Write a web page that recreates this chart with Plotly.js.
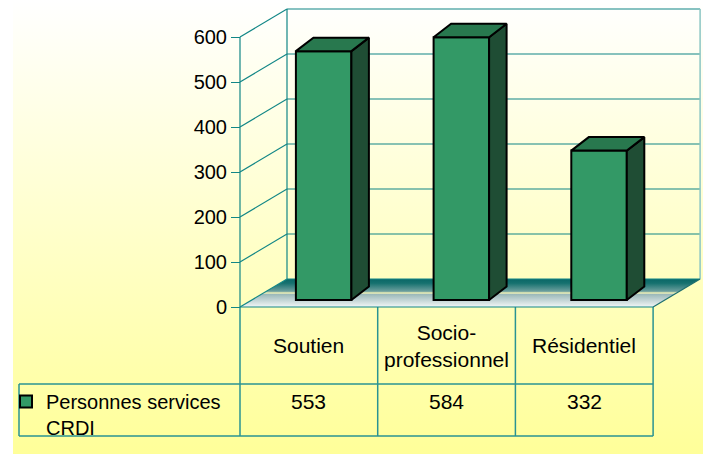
<!DOCTYPE html>
<html>
<head>
<meta charset="utf-8">
<script src="https://cdn.plot.ly/plotly-3.0.1.min.js"></script>
<style>
  html, body { margin: 0; padding: 0; background: #ffffff; }
  #chart {
    width: 703px; height: 454px;
    background-color: #ffffff;
    background-image: linear-gradient(to bottom, #ffffff 0%, #ffff99 100%);
    background-repeat: no-repeat;
    background-position: 13px 0;
    background-size: 690px 454px;
  }
</style>
</head>
<body>
<div id="chart"></div>
<script>
// data
var categories = ['Soutien', 'Socio-<br>professionnel', 'Résidentiel'];
var values = [553, 584, 332];
var seriesName = 'Personnes services<br>CRDI';
var yTicks = [0, 100, 200, 300, 400, 500, 600];

// frame of the picture, in pixels
var W = 703, H = 454;
var X0 = 240, CAT = 137.7;   // front axis x, width of one category
var Y0 = 307, PXU = 0.45;    // pixel row of 0, pixels per unit
function ux(p) { return (p - X0) / CAT; }
function uy(p) { return (Y0 - p) / PXU; }

var DX = 47 / CAT, DY = 28 / PXU;       // depth of the walls
var OX = 14.8 / CAT, OY = 7 / PXU;      // offset of the bar fronts
var BX = 17.5 / CAT, BY = 13.5 / PXU;   // depth of a bar
var BW = 55.5 / CAT;                     // bar width
var nCat = categories.length;
var yMax = yTicks[yTicks.length - 1];

var FONT = 'Liberation Sans, Arial, sans-serif';
var TEAL = '#118686';
var GREEN = '#339966', GREEN_SIDE = '#1f4d34', GREEN_TOP = '#28784e';

// walls and grid
var gx = [], gy = [];
function seg(x1, y1, x2, y2) { gx.push(x1, x2, null); gy.push(y1, y2, null); }
seg(0, 0, 0, yMax);
yTicks.forEach(function (v) {
  seg(0, v, DX, v + DY);
  seg(DX, v + DY, nCat + DX, v + DY);
});
seg(DX, DY, DX, yMax + DY);
seg(0, 0, nCat, 0);

var traces = [];

traces.push({
  type: 'scatter', mode: 'lines',
  x: [0, nCat, nCat + DX, DX, 0],
  y: [0, 0, DY, DY, 0],
  fill: 'toself',
  fillgradient: {
    type: 'vertical',
    colorscale: [[0, '#f2f6f6'], [0.45, '#9cb9ba'], [0.5, '#f6f6b8'], [0.56, '#6d9f9e'], [0.85, '#16716f'], [1, '#0b6767']]
  },
  line: {width: 0},
  hoverinfo: 'skip', showlegend: false
});

traces.push({
  type: 'scatter', mode: 'lines', x: gx, y: gy,
  line: {color: TEAL, width: 1.2},
  hoverinfo: 'skip', showlegend: false
});

traces.push({
  type: 'scatter', mode: 'lines',
  x: [nCat + DX, nCat + DX], y: [DY, yMax + DY],
  line: {color: '#8cc6c4', width: 1.5},
  hoverinfo: 'skip', showlegend: false
});

traces.push({
  type: 'scatter', mode: 'lines',
  x: [nCat, nCat + DX], y: [0, DY],
  line: {color: '#1d6f6f', width: 1.2},
  hoverinfo: 'skip', showlegend: false
});

// bars: front faces
var barX = values.map(function (v, i) { return i + 0.5 + OX; });
traces.push({
  type: 'bar', x: barX, y: values, base: OY, width: BW,
  name: seriesName,
  marker: {color: GREEN, line: {color: '#000000', width: 2}},
  xaxis: 'x2', yaxis: 'y2', hoverinfo: 'skip'
});

// bars: side and top faces
values.forEach(function (v, i) {
  var xl = barX[i] - BW / 2, xr = barX[i] + BW / 2;
  var yt = OY + v;
  traces.push({
    type: 'scatter', mode: 'lines',
    x: [xr, xr + BX, xr + BX, xr, xr],
    y: [OY, OY + BY, yt + BY, yt, OY],
    fill: 'toself', fillcolor: GREEN_SIDE,
    line: {color: '#000000', width: 2},
    xaxis: 'x2', yaxis: 'y2', hoverinfo: 'skip', showlegend: false
  });
  traces.push({
    type: 'scatter', mode: 'lines',
    x: [xl, xr, xr + BX, xl + BX, xl],
    y: [yt, yt, yt + BY, yt + BY, yt],
    fill: 'toself', fillcolor: GREEN_TOP,
    line: {color: '#000000', width: 2},
    xaxis: 'x2', yaxis: 'y2', hoverinfo: 'skip', showlegend: false
  });
});

// data table under the chart
var tTop = uy(307), tMid = uy(384), tBot = uy(436), tLeft = ux(19);
var tLine = {color: '#2a9393', width: 1.5};
var shapes = [];
function tline(x1, y1, x2, y2) {
  shapes.push({type: 'line', xref: 'x', yref: 'y', x0: x1, y0: y1, x1: x2, y1: y2, line: tLine, layer: 'below'});
}
for (var c = 0; c <= nCat; c++) tline(c, tTop, c, tBot);
tline(tLeft, tMid, nCat, tMid);
tline(tLeft, tBot, nCat, tBot);
tline(tLeft, tMid, tLeft, tBot);

var annotations = [];
categories.forEach(function (cat, i) {
  annotations.push({
    xref: 'x', yref: 'y', x: i + 0.5, y: uy(345.5), text: cat,
    showarrow: false, xanchor: 'center', yanchor: 'middle',
    font: {family: FONT, size: 21, color: '#000000'}
  });
});
values.forEach(function (v, i) {
  annotations.push({
    xref: 'x', yref: 'y', x: i + 0.5, y: uy(401), text: String(v),
    showarrow: false, xanchor: 'center', yanchor: 'middle',
    font: {family: FONT, size: 21, color: '#000000'}
  });
});

var xr = [ux(0), ux(W)], yr = [uy(H), uy(0)];
var layout = {
  width: W, height: H,
  margin: {l: 0, r: 0, t: 0, b: 0},
  paper_bgcolor: 'rgba(0,0,0,0)',
  plot_bgcolor: 'rgba(0,0,0,0)',
  showlegend: true,
  hovermode: false,
  xaxis: {range: xr, visible: false, fixedrange: true},
  yaxis: {
    range: yr, anchor: 'free', position: X0 / W, side: 'left',
    tickvals: yTicks, ticks: 'outside', ticklen: 9, tickwidth: 1, tickcolor: TEAL,
    showgrid: false, zeroline: false, showline: false, fixedrange: true,
    tickfont: {family: FONT, size: 20, color: '#000000'}
  },
  xaxis2: {range: xr, overlaying: 'x', anchor: 'y2', visible: false, fixedrange: true},
  yaxis2: {range: yr, overlaying: 'y', anchor: 'x2', visible: false, fixedrange: true},
  legend: {
    x: 6 / W, y: 1 - 382 / H, xanchor: 'left', yanchor: 'top',
    valign: 'top', bgcolor: 'rgba(0,0,0,0)', borderwidth: 0,
    font: {family: FONT, size: 20, color: '#000000'}
  },
  shapes: shapes,
  annotations: annotations
};

Plotly.newPlot('chart', traces, layout, {displayModeBar: false, staticPlot: true});
</script>
</body>
</html>
